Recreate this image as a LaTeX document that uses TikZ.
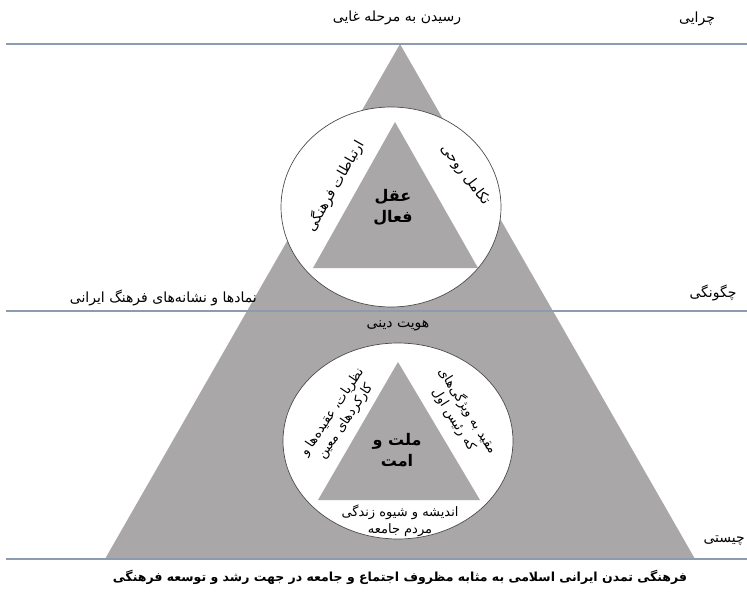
\documentclass[tikz,border=0pt]{standalone}
\usepackage{fontspec}
\newfontfamily\farsi[Script=Arabic]{DejaVu Sans}
\TeXXeTstate=1
\definecolor{pyramid}{RGB}{169,167,167}
\definecolor{rulecol}{RGB}{140,154,178}

\begin{document}
\begin{tikzpicture}[x=1pt, y=-1pt,
    txt/.style = {font=\farsi\fontsize{14}{16.5}\selectfont, inner sep=1pt, align=center},
    bold/.style = {font=\farsi\bfseries\fontsize{16}{21}\selectfont, inner sep=1pt, align=center},
    levelrule/.style = {draw=rulecol, line width=1.3pt},
    ring/.style = {draw=black!70, fill=white, line width=0.7pt}]
    \useasboundingbox (0,0) rectangle (747,594);

    % big pyramid and its three levels
    \coordinate (top) at (400,44);
    \coordinate (baseL) at (105,559);
    \coordinate (baseR) at (695,559);
    \fill[pyramid] (top) -- (baseL) -- (baseR) -- cycle;
    \draw[levelrule] (6,44) -- (747,44);
    \draw[levelrule] (6,311) -- (747,311);
    \draw[levelrule] (6,559) -- (747,559);

    % upper circle
    \draw[ring] (391,207) ellipse [x radius=110, y radius=100];
    \fill[pyramid] (395,122) -- (313,268) -- (478,268) -- cycle;
    % lower circle
    \draw[ring] (398,441) ellipse [x radius=115, y radius=98];
    \fill[pyramid] (398,362) -- (318,500) -- (480,500) -- cycle;

    % level names
    \node[txt] (why) at (697,19) {\beginR چرایی\endR};
    \node[txt] (how) at (713,293) {\beginR چگونگی\endR};
    \node[txt, anchor=east] (what) at (746,541) {\beginR چیستی\endR};

    % labels
    \node[txt] (goal) at (397,18) {\beginR رسیدن به مرحله غایی\endR};
    \node[txt, anchor=east] (symbols) at (258,298) {\beginR نمادها و نشانه‌های فرهنگ ایرانی\endR};
    \node[txt] (identity) at (398,326) {\beginR هویت دینی\endR};

    % upper circle texts
    \node[bold] (intellect) at (393,207) {\beginR عقل\endR\\\beginR فعال\endR};
    \node[txt, rotate=60] (links) at (335,186) {\beginR ارتباطات فرهنگی\endR};
    \node[txt, rotate=-53] (growth) at (465,175) {\beginR تکامل روحی\endR};

    % lower circle texts
    \node[bold] (nation) at (397,450) {\beginR ملت و\endR\\\beginR امت\endR};
    \node[txt, font=\farsi\fontsize{13}{16}\selectfont, rotate=56] (beliefs) at (339,417)
        {\beginR نظریات، عقیده‌ها و\endR\\\beginR کارکردهای معین\endR};
    \node[txt, font=\farsi\fontsize{13}{16}\selectfont, rotate=-58] (leader) at (461,415)
        {\beginR مقید به ویژگی‌های\endR\\\beginR که رئیس اول\endR};
    \node[txt, font=\farsi\fontsize{13}{17}\selectfont] (life) at (400,521)
        {\beginR اندیشه و شیوه زندگی\endR\\\beginR مردم جامعه\endR};

    % caption
    \node[bold, font=\farsi\bfseries\fontsize{12.5}{15}\selectfont] (caption) at (400,577)
        {\beginR فرهنگی تمدن ایرانی اسلامی به مثابه مظروف اجتماع و جامعه در جهت رشد و توسعه فرهنگی\endR};
\end{tikzpicture}
\end{document}
